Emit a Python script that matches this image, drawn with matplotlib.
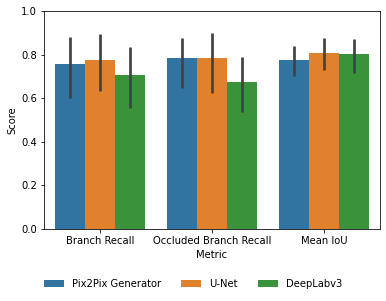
import matplotlib
matplotlib.use("Agg")
import matplotlib.pyplot as plt
import numpy as np

metrics = ["Branch Recall", "Occluded Branch Recall", "Mean IoU"]
models = ["Pix2Pix Generator", "U-Net", "DeepLabv3"]
colors = ["#3274a1", "#e1812c", "#3a923a"]

scores = {
    "Pix2Pix Generator": [0.757, 0.784, 0.775],
    "U-Net": [0.775, 0.784, 0.807],
    "DeepLabv3": [0.706, 0.674, 0.803],
}
err_low = {
    "Pix2Pix Generator": [0.602, 0.647, 0.703],
    "U-Net": [0.634, 0.625, 0.731],
    "DeepLabv3": [0.556, 0.538, 0.717],
}
err_high = {
    "Pix2Pix Generator": [0.879, 0.875, 0.838],
    "U-Net": [0.894, 0.897, 0.875],
    "DeepLabv3": [0.833, 0.787, 0.870],
}

fig, ax = plt.subplots(figsize=(386 / 72, 301 / 72), dpi=72)
fig.subplots_adjust(left=44 / 386, right=380 / 386, top=1 - 11 / 301, bottom=1 - 229 / 301)

x = np.arange(len(metrics))
w = 0.8 / len(models)
for i, m in enumerate(models):
    pos = x - 0.4 + w * (i + 0.5)
    ax.bar(pos, scores[m], width=w, color=colors[i], label=m)
    ax.vlines(pos, err_low[m], err_high[m], color="#424242", lw=2.7, zorder=3)

ax.set_xticks(x)
ax.set_xticklabels(metrics)
ax.set_xlim(-0.5, 2.5)
ax.set_ylim(0, 1.0)
ax.set_xlabel("Metric")
ax.set_ylabel("Score")

fig.legend(loc="lower center", ncol=3, frameon=False, bbox_to_anchor=(0.5, 0.01),
           columnspacing=2.0)

fig.savefig("out.png", dpi=72)
